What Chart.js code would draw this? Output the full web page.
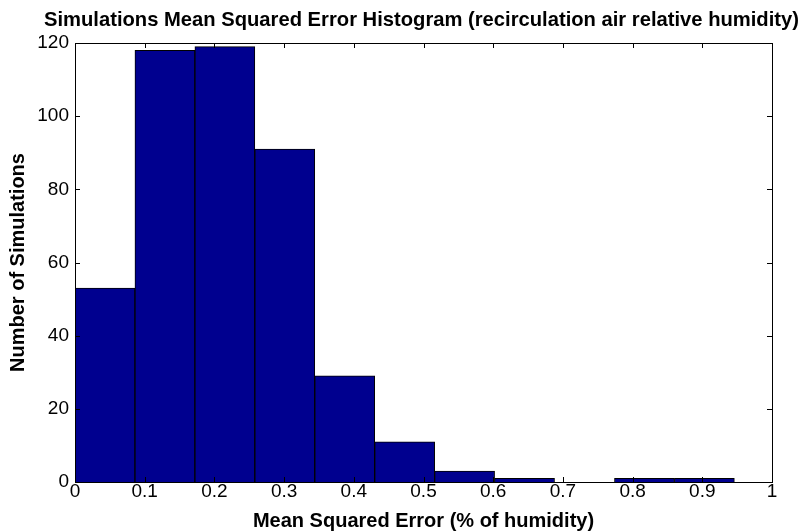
<!DOCTYPE html>
<html>
<head>
<meta charset="utf-8">
<script src="https://cdn.jsdelivr.net/npm/chart.js@4"></script>
<style>
  html, body { margin: 0; padding: 0; background: #fff; }
  #wrap { width: 804px; height: 531px; }
</style>
</head>
<body>
<div id="wrap"><canvas id="histChart" width="804" height="531"></canvas></div>
<script>
// Histogram data
const binCenters = [0.043, 0.129, 0.215, 0.301, 0.387, 0.473, 0.559, 0.645, 0.731, 0.817, 0.903];
const counts = [53, 118, 119, 91, 29, 11, 3, 1, 0, 1, 1];
const xTicks = [0, 0.1, 0.2, 0.3, 0.4, 0.5, 0.6, 0.7, 0.8, 0.9, 1];
const yTicks = [0, 20, 40, 60, 80, 100, 120];

const titleText = 'Simulations Mean Squared Error Histogram (recirculation air relative humidity)';
const fontFamily = '"Liberation Sans", Arial, sans-serif';

// MATLAB-like box with inward tick marks, and the title over the plot area
const boxPlugin = {
    id: 'boxPlugin',
    afterDatasetsDraw(chart) {
        const { ctx, chartArea: a, scales } = chart;
        const len = 5;
        ctx.save();
        ctx.strokeStyle = '#000';
        ctx.lineWidth = 1;
        ctx.strokeRect(Math.round(a.left) + 0.5, Math.round(a.top) + 0.5,
            Math.round(a.right - a.left), Math.round(a.bottom - a.top));
        ctx.beginPath();
        xTicks.forEach(v => {
            const x = Math.round(scales.x.getPixelForValue(v)) + 0.5;
            ctx.moveTo(x, a.bottom); ctx.lineTo(x, a.bottom - len);
            ctx.moveTo(x, a.top); ctx.lineTo(x, a.top + len);
        });
        yTicks.forEach(v => {
            const y = Math.round(scales.y.getPixelForValue(v)) + 0.5;
            ctx.moveTo(a.left, y); ctx.lineTo(a.left + len, y);
            ctx.moveTo(a.right, y); ctx.lineTo(a.right - len, y);
        });
        ctx.stroke();

        ctx.fillStyle = '#000';
        ctx.font = 'bold 20.2px ' + fontFamily;
        ctx.textAlign = 'center';
        ctx.textBaseline = 'middle';
        ctx.fillText(titleText, (a.left + a.right) / 2 - 2, 20);
        ctx.restore();
    }
};

new Chart(document.getElementById('histChart'), {
    type: 'bar',
    data: {
        datasets: [{
            label: 'Simulations',
            data: binCenters.map((c, i) => ({ x: c, y: counts[i] })),
            backgroundColor: 'rgb(0, 0, 143)',
            borderColor: '#000',
            borderWidth: 1,
            barPercentage: 1,
            categoryPercentage: 1
        }]
    },
    options: {
        responsive: false,
        animation: false,
        layout: { padding: { left: 0, right: 32, top: 43, bottom: 0 } },
        plugins: {
            legend: { display: false },
            title: { display: false },
            tooltip: { enabled: false }
        },
        scales: {
            x: {
                type: 'linear',
                min: 0,
                max: 1,
                offset: false,
                grid: { display: false, drawTicks: false },
                border: { display: false },
                afterBuildTicks: scale => { scale.ticks = xTicks.map(v => ({ value: v })); },
                afterFit: scale => { scale.height = 49; },
                ticks: {
                    color: '#000',
                    padding: -2,
                    maxRotation: 0,
                    font: { family: fontFamily, size: 19 },
                    callback: v => String(Math.round(v * 10) / 10)
                },
                title: {
                    display: true,
                    text: 'Mean Squared Error (% of humidity)',
                    color: '#000',
                    padding: { top: 0, bottom: 0 },
                    font: { family: fontFamily, size: 20, weight: 'bold', lineHeight: 1 }
                }
            },
            y: {
                min: 0,
                max: 120,
                grid: { display: false, drawTicks: false },
                border: { display: false },
                afterBuildTicks: scale => { scale.ticks = yTicks.map(v => ({ value: v })); },
                afterFit: scale => { scale.width = 75; },
                ticks: {
                    color: '#000',
                    padding: 6,
                    font: { family: fontFamily, size: 19 }
                },
                title: {
                    display: true,
                    text: 'Number of Simulations',
                    color: '#000',
                    padding: { top: 8, bottom: 0 },
                    font: { family: fontFamily, size: 20, weight: 'bold', lineHeight: 1 }
                }
            }
        }
    },
    plugins: [boxPlugin]
});
</script>
</body>
</html>
